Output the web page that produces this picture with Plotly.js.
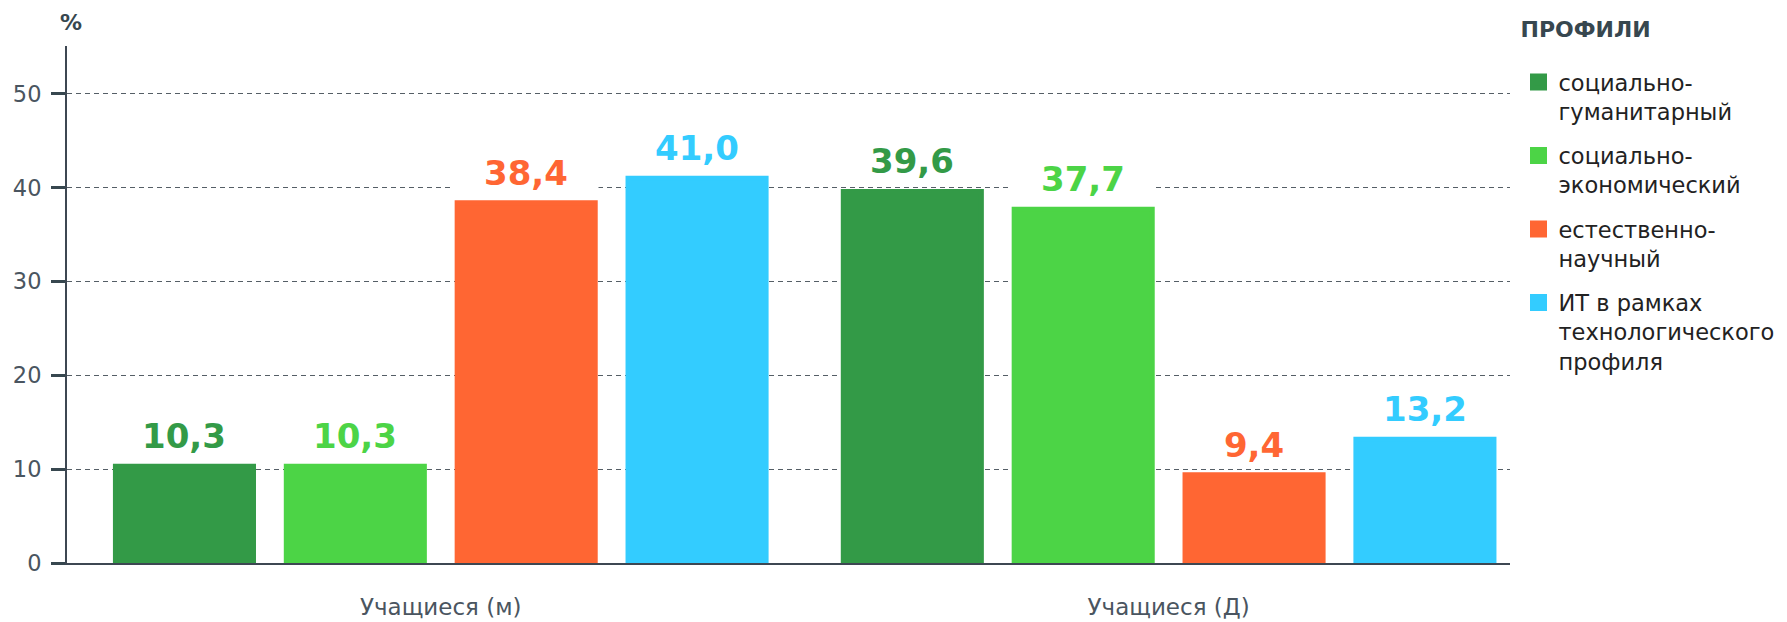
<!DOCTYPE html>
<html>
<head>
<meta charset="utf-8">
<script src="https://cdn.plot.ly/plotly-3.0.1.min.js"></script>
<style>html,body{margin:0;padding:0;background:#fff;}#chart{width:1787px;height:622px;}</style>
</head>
<body>
<div id="chart"></div>
<script>
// ---- data ----
var categories = ["Учащиеся (м)", "Учащиеся (Д)"];
var seriesNames = ["социально-<br>гуманитарный", "социально-<br>экономический", "естественно-<br>научный", "ИТ в рамках<br>технологического<br>профиля"];
var seriesColors = ["#339a47", "#4cd446", "#ff6633", "#33ccff"];
var socHum = [10.3, 39.6];
var socEcon = [10.3, 37.7];
var natSci = [38.4, 9.4];
var itTech = [41.0, 13.2];
var yTicks = [0, 10, 20, 30, 40, 50];
var legendTitle = "ПРОФИЛИ";

var seriesValues = [socHum, socEcon, natSci, itTech];

// ---- layout constants ----
var BARGAP = 0.061, BARGROUPGAP = 0.192;
var textColor = "#37474f";

function fmt(v) { return v.toFixed(1).replace(".", ","); }

var traces = seriesValues.map(function (vals, j) {
  return {
    type: "bar",
    name: seriesNames[j],
    legendgroup: "g" + j,
    x: categories,
    y: vals,
    marker: { color: seriesColors[j], line: { color: seriesColors[j], width: 5 } },
    hoverinfo: "skip"
  };
});

// value labels positioned through the category axis scale
var annotations = [];
var nS = seriesValues.length;
var slot = (1 - BARGAP) / nS;
seriesValues.forEach(function (vals, j) {
  vals.forEach(function (v, i) {
    annotations.push({
      xref: "x", yref: "y",
      x: i - (1 - BARGAP) / 2 + (j + 0.5) * slot,
      y: v,
      text: fmt(v),
      showarrow: false,
      xanchor: "center", yanchor: "bottom",
      yshift: 7,
      borderpad: 2,
      bgcolor: "#ffffff",
      width: 140,
      font: { family: "DejaVu Sans", size: 34, color: seriesColors[j], weight: "bold" }
    });
  });
});

var layout = {
  width: 1787, height: 622,
  margin: { l: 67, r: 277, t: 46, b: 59, autoexpand: false },
  paper_bgcolor: "#ffffff", plot_bgcolor: "#ffffff",
  barmode: "group",
  bargap: BARGAP, bargroupgap: BARGROUPGAP,
  font: { family: "DejaVu Sans", color: textColor },
  title: {
    text: "%",
    x: 71 / 1787, xanchor: "center", xref: "container",
    y: 1 - 22 / 622, yanchor: "middle", yref: "container",
    font: { family: "DejaVu Sans", size: 22, color: textColor, weight: "bold" }
  },
  xaxis: {
    type: "category",
    range: [-0.5135, 1.469],
    showline: true, linecolor: "#3d4752", linewidth: 2,
    ticks: "", showgrid: false, zeroline: false,
    ticklabelstandoff: 22,
    tickfont: { family: "DejaVu Sans", size: 23, color: "#4a5560" }
  },
  yaxis: {
    range: [0, 55.1],
    tickvals: yTicks,
    ticktext: yTicks.map(String),
    showline: true, linecolor: "#3d4752", linewidth: 2,
    ticks: "outside", ticklen: 14, tickwidth: 3, tickcolor: textColor,
    ticklabelstandoff: 5,
    showgrid: true, gridcolor: "#555e66", gridwidth: 1, griddash: "5px,4px",
    zeroline: false,
    tickfont: { family: "DejaVu Sans", size: 22.5, color: "#4a5560" }
  },
  legend: {
    xref: "container", yref: "container",
    x: 1518.5 / 1787, xanchor: "left",
    y: 1 - 14 / 622, yanchor: "top",
    valign: "top",
    maxheight: 600,
    font: { family: "DejaVu Sans", size: 22.5, color: "#222222" },
    title: {
      text: "<span style='font-size:22px'>" + legendTitle + "</span><br> ",
      font: { family: "DejaVu Sans", size: 18, color: textColor, weight: "bold" }
    },
    tracegroupgap: 12,
    bgcolor: "rgba(0,0,0,0)"
  },
  annotations: annotations,
  showlegend: true
};

Plotly.newPlot("chart", traces, layout, { displayModeBar: false, staticPlot: true });
</script>
</body>
</html>
